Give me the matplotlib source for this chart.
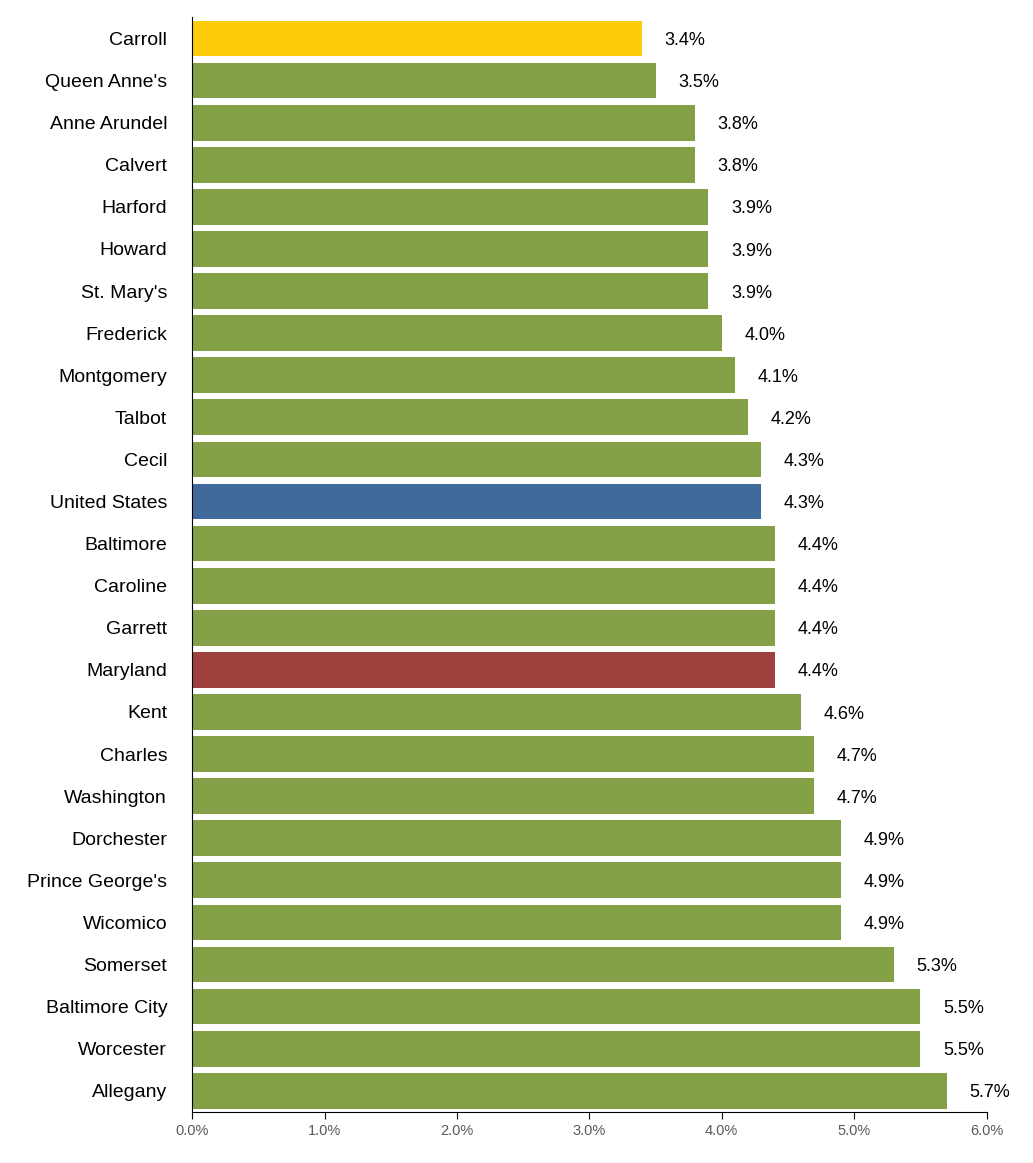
import matplotlib
matplotlib.use("Agg")
import matplotlib.pyplot as plt

categories = ["Carroll","Queen Anne's","Anne Arundel","Calvert","Harford","Howard","St. Mary's",
 "Frederick","Montgomery","Talbot","Cecil","United States","Baltimore","Caroline","Garrett",
 "Maryland","Kent","Charles","Washington","Dorchester","Prince George's","Wicomico","Somerset",
 "Baltimore City","Worcester","Allegany"]
values = [3.4,3.5,3.8,3.8,3.9,3.9,3.9,4.0,4.1,4.2,4.3,4.3,4.4,4.4,4.4,4.4,4.6,4.7,4.7,4.9,4.9,4.9,5.3,5.5,5.5,5.7]
xticks = [0,1,2,3,4,5,6]

def color(c):
    if c == "Carroll": return "#FFCC0A"
    if c == "United States": return "#40699C"
    if c == "Maryland": return "#9E413E"
    return "#84A046"

plt.rcParams['font.family'] = ['Liberation Sans', 'DejaVu Sans']
fig = plt.figure(figsize=(10.33, 11.63), dpi=100)
ax = fig.add_axes([0.186, 0.044, 0.769, 0.941])
y = list(range(len(categories)))
ax.barh(y, values, height=0.85, color=[color(c) for c in categories])
for yi, v in zip(y, values):
    ax.text(v + 0.17, yi + 0.05, f"{v:.1f}%", va="center", ha="left", fontsize=13)
ax.set_yticks(y)
ax.set_yticklabels(categories, fontsize=14)
ax.set_ylim(len(categories) - 0.5, -0.5)
ax.set_xlim(0, 6)
ax.set_xticks(xticks)
ax.set_xticklabels([f"{t:.1f}%" for t in xticks], fontsize=10.5, color="#595959")
ax.tick_params(axis="y", length=0, pad=18)
ax.tick_params(axis="x", length=5, direction="out", color="black")
for s in ["top", "right"]:
    ax.spines[s].set_visible(False)
ax.spines["left"].set_color("black")
ax.spines["bottom"].set_color("black")
fig.savefig("out.png", dpi=100)
